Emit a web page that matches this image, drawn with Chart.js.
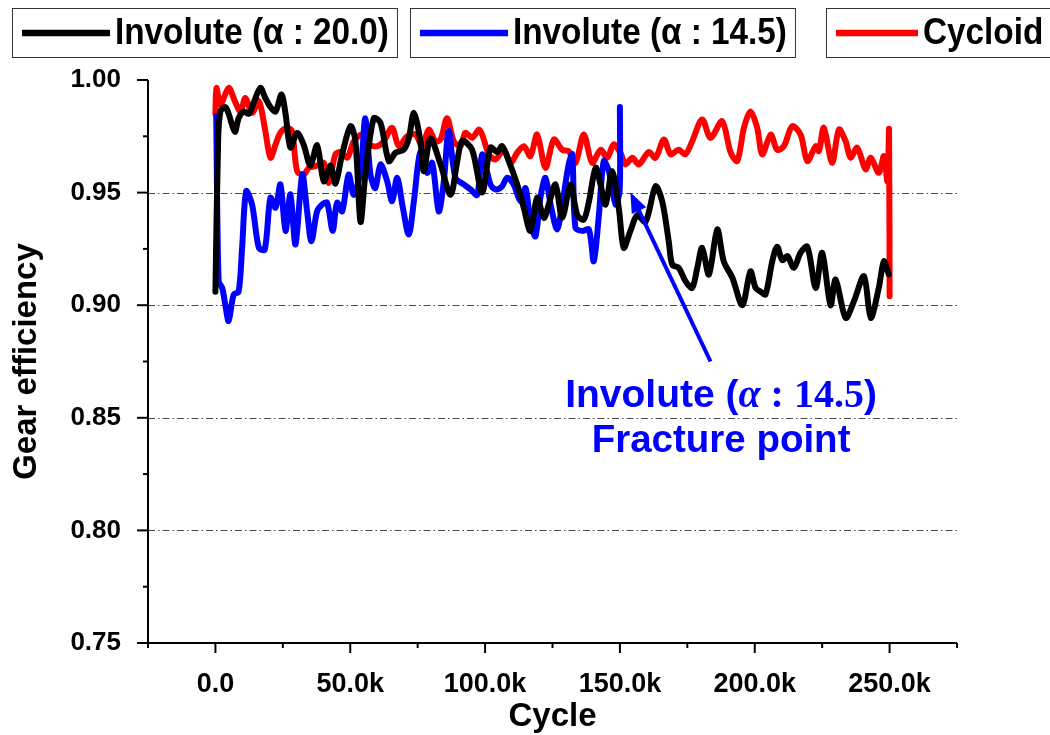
<!DOCTYPE html>
<html lang="en">
<head>
<meta charset="UTF-8">
<title>Gear efficiency</title>
<style>
  body { margin: 0; background: #fff; }
  canvas { display: block; }
</style>
</head>
<body>
<canvas id="myChart" width="1050" height="735"></canvas>
<script src="https://cdn.jsdelivr.net/npm/chart.js"></script>
<script>
// cycles are in thousands, efficiency as a fraction
const cycleA20 = [0, 1.0, 1.85, 3.7, 4.9, 7.2, 8.6, 10.5, 12.4, 14.2,
  16.7, 18.5, 20.4, 22.3, 24.5, 26.0, 27.8, 30.3, 32.8, 35.2,
  37.7, 40.2, 42.7, 44.5, 47.0, 50.1, 51.9, 53.8, 55.6, 58.7,
  61.2, 64.3, 66.8, 69.8, 71.7, 73.6, 76.0, 77.3, 79.7, 83.5,
  87.2, 89.7, 91.5, 95.2, 98.9, 102.0, 104.5, 106.3, 108.8, 111.9,
  114.4, 116.8, 119.3, 121.8, 123.6, 126.1, 128.6, 131.7, 134.2, 136.6,
  138.5, 141.0, 142.8, 144.7, 147.1, 149.6, 151.4, 153.9, 156.4, 159.5,
  163.2, 165.7, 168.1, 169.4, 171.8, 174.3, 176.8, 178.7, 180.5, 183.0,
  186.1, 188.5, 191.7, 195.4, 198.4, 200.3, 202.2, 204.0, 206.5, 208.3,
  210.2, 212.1, 214.5, 217.0, 219.5, 222.6, 225.0, 228.1, 230.0, 233.7,
  236.8, 240.5, 243.0, 246.0, 247.9, 249.7];
const effA20 = [0.906, 0.973, 0.986, 0.988, 0.985, 0.977, 0.983, 0.986, 0.985, 0.990,
  0.9965, 0.992, 0.988, 0.986, 0.9936, 0.985, 0.970, 0.9765, 0.971, 0.962,
  0.971, 0.955, 0.962, 0.954, 0.967, 0.9795, 0.973, 0.937, 0.958, 0.983,
  0.981, 0.964, 0.9677, 0.969, 0.974, 0.9854, 0.973, 0.9595, 0.974, 0.9625,
  0.949, 0.964, 0.973, 0.969, 0.950, 0.970, 0.968, 0.9706, 0.964, 0.9536,
  0.943, 0.933, 0.9477, 0.9388, 0.9447, 0.9536, 0.9388, 0.9536, 0.940, 0.938,
  0.946, 0.961, 0.9536, 0.9447, 0.9595, 0.943, 0.9255, 0.933, 0.940, 0.937,
  0.9528, 0.946, 0.9284, 0.918, 0.9166, 0.9107, 0.9077, 0.9166, 0.9255, 0.9136,
  0.9336, 0.9195, 0.9122, 0.900, 0.915, 0.9077, 0.906, 0.9048, 0.9195, 0.926,
  0.920, 0.9218, 0.9166, 0.9233, 0.926, 0.9077, 0.9233, 0.900, 0.9114, 0.8944,
  0.9018, 0.9129, 0.8944, 0.9077, 0.9195, 0.9136];

const cycleA145 = [0.3, 1.2, 2.5, 3.7, 4.9, 6.8, 8.6, 9.9, 11.4, 13.6,
  16.1, 18.3, 20.4, 22.3, 24.1, 26.0, 27.8, 29.7, 32.2, 34.0,
  35.6, 37.7, 39.6, 41.4, 43.5, 45.1, 47.0, 49.4, 51.3, 53.8,
  55.6, 57.5, 59.3, 61.2, 63.7, 65.5, 67.4, 69.3, 71.7, 73.6,
  76.0, 78.5, 80.4, 82.8, 84.7, 86.5, 89.0, 92.1, 94.6, 97.1,
  98.9, 102.0, 103.9, 106.3, 108.2, 110.6, 113.1, 115.0, 116.8, 118.7,
  120.5, 122.4, 124.3, 126.7, 128.6, 131.0, 132.3, 133.5, 136.0, 138.5,
  140.3, 142.2, 144.0, 145.9, 148.4, 149.9, 150.0];
const effA145 = [0.984, 0.9107, 0.9077, 0.900, 0.893, 0.9048, 0.906, 0.9255, 0.9506, 0.9447,
  0.9255, 0.9247, 0.9477, 0.9433, 0.9536, 0.933, 0.9492, 0.927, 0.958, 0.9417,
  0.9284, 0.9417, 0.9447, 0.9455, 0.933, 0.9455, 0.9417, 0.958, 0.949, 0.9595,
  0.983, 0.958, 0.952, 0.9625, 0.955, 0.9462, 0.9566, 0.9447, 0.9314, 0.9462,
  0.968, 0.9588, 0.9632, 0.9417, 0.955, 0.9773, 0.9566, 0.9536, 0.9514, 0.949,
  0.967, 0.9536, 0.9514, 0.9528, 0.9566, 0.9536, 0.9462, 0.952, 0.9373, 0.9306,
  0.9477, 0.9566, 0.9447, 0.9336, 0.9447, 0.9625, 0.967, 0.9344, 0.933, 0.9336,
  0.9195, 0.940, 0.964, 0.9595, 0.9447, 0.951, 0.988];

const cycleCyc = [0, 0.4, 1.85, 4.9, 7.2, 9.3, 11.1, 13.6, 16.1, 18.3,
  20.4, 22.3, 24.1, 26.6, 28.4, 30.3, 32.8, 34.6, 37.1, 40.2,
  42.0, 44.5, 46.4, 48.9, 51.3, 54.4, 56.9, 60.0, 62.4, 65.5,
  68.0, 71.1, 74.2, 76.7, 79.1, 81.6, 83.5, 85.9, 88.4, 90.9,
  92.7, 95.2, 97.7, 98.9, 101.4, 103.9, 106.9, 109.4, 111.9, 114.4,
  116.8, 119.3, 122.4, 125.5, 128.6, 131.0, 133.5, 136.6, 139.7, 142.8,
  145.3, 147.7, 150.2, 152.1, 154.6, 157.0, 160.7, 163.2, 166.3, 168.8,
  171.8, 174.3, 176.8, 180.5, 183.6, 187.9, 191.0, 193.5, 196.0, 198.4,
  200.9, 202.8, 205.9, 208.3, 210.8, 213.9, 217.0, 219.5, 222.6, 223.8,
  225.6, 228.7, 231.2, 233.7, 235.5, 238.0, 241.1, 243.0, 246.0, 247.9,
  249.2, 249.8, 250.0];
const effCyc = [0.985, 0.9965, 0.989, 0.9965, 0.9906, 0.986, 0.992, 0.9854, 0.9906, 0.9788,
  0.9655, 0.9714, 0.9766, 0.9788, 0.9773, 0.9595, 0.958, 0.961, 0.9617, 0.9632,
  0.9543, 0.967, 0.968, 0.9655, 0.9728, 0.9758, 0.9714, 0.9706, 0.9728, 0.9788,
  0.9706, 0.975, 0.9758, 0.9706, 0.978, 0.9728, 0.9736, 0.983, 0.9728, 0.9706,
  0.9766, 0.9743, 0.978, 0.9758, 0.967, 0.9647, 0.969, 0.9632, 0.9677, 0.9706,
  0.9662, 0.9758, 0.961, 0.9736, 0.969, 0.9684, 0.9632, 0.9758, 0.9632, 0.969,
  0.9655, 0.9714, 0.9677, 0.9625, 0.9655, 0.9625, 0.968, 0.9655, 0.9736, 0.967,
  0.969, 0.967, 0.9728, 0.9825, 0.9743, 0.9817, 0.968, 0.964, 0.9788, 0.986,
  0.9788, 0.967, 0.9758, 0.969, 0.9706, 0.9795, 0.9758, 0.964, 0.9706, 0.9684,
  0.9788, 0.9632, 0.978, 0.9728, 0.9655, 0.9699, 0.9603, 0.9655, 0.9588, 0.9662,
  0.955, 0.978, 0.904];

const seriesNames = ['Involute (\u03b1 : 20.0)', 'Involute (\u03b1 : 14.5)', 'Cycloid'];
const seriesColors = ['#000000', '#0000ff', '#ff0000'];

const SANS = '"Liberation Sans", Arial, Helvetica, sans-serif';
const SERIF = '"Liberation Serif", "Times New Roman", serif';

function toPoints(cycles, effs) {
  return cycles.map((c, i) => ({ x: c * 1000, y: effs[i] }));
}

// left/bottom axes with long major and short minor ticks, dash-dot guides
const axesPlugin = {
  id: 'axesPlugin',
  beforeDatasetsDraw(chart) {
    const { ctx, chartArea: a, scales: { y } } = chart;
    ctx.save();
    ctx.strokeStyle = '#4a4a4a';
    ctx.lineWidth = 1;
    ctx.setLineDash([7, 3, 1.5, 3]);
    y.ticks.forEach(t => {
      const m = Math.round(t.value * 1000);
      if (m % 50 !== 0 || m <= 750 || m >= 1000) return;
      const py = Math.round(y.getPixelForValue(t.value)) + 0.5;
      ctx.beginPath();
      ctx.moveTo(a.left, py);
      ctx.lineTo(a.right, py);
      ctx.stroke();
    });
    ctx.restore();
  },
  afterDraw(chart) {
    const { ctx, chartArea: a, scales: { x, y } } = chart;
    ctx.save();
    ctx.strokeStyle = '#000';
    ctx.lineWidth = 2;
    ctx.beginPath();
    ctx.moveTo(a.left, a.top);
    ctx.lineTo(a.left, a.bottom);
    ctx.lineTo(a.right, a.bottom);
    ctx.stroke();
    y.ticks.forEach(t => {
      const major = Math.round(t.value * 1000) % 50 === 0;
      const py = y.getPixelForValue(t.value);
      ctx.beginPath();
      ctx.moveTo(a.left, py);
      ctx.lineTo(a.left - (major ? 11 : 5), py);
      ctx.stroke();
    });
    x.ticks.forEach(t => {
      const major = Math.round(t.value) % 50000 === 0;
      const px = x.getPixelForValue(t.value);
      ctx.beginPath();
      ctx.moveTo(px, a.bottom);
      ctx.lineTo(px, a.bottom + (major ? 10 : 5));
      ctx.stroke();
    });
    ctx.restore();
  }
};

// boxed legend entries across the top
const legendBoxes = {
  id: 'legendBoxes',
  afterDraw(chart) {
    const ctx = chart.ctx;
    const lefts = [12, 410, 826];
    const squeeze = 0.9;
    ctx.save();
    ctx.font = 'bold 37px ' + SANS;
    ctx.textBaseline = 'middle';
    chart.data.datasets.forEach((ds, i) => {
      const x0 = lefts[i];
      const lineLen = i === 2 ? 82 : 88;
      const tw = ctx.measureText(ds.label).width * squeeze;
      const w = 10 + lineLen + 5 + tw + 8;
      ctx.strokeStyle = '#333';
      ctx.lineWidth = 1;
      ctx.strokeRect(x0 + 0.5, 8.5, w, 49);
      ctx.strokeStyle = ds.borderColor;
      ctx.lineWidth = 6.5;
      ctx.beginPath();
      ctx.moveTo(x0 + 10, 33);
      ctx.lineTo(x0 + 10 + lineLen, 33);
      ctx.stroke();
      ctx.save();
      ctx.translate(x0 + 15 + lineLen, 34);
      ctx.scale(squeeze, 1);
      ctx.fillStyle = '#000';
      ctx.fillText(ds.label, 0, 0);
      ctx.restore();
    });
    ctx.restore();
  }
};

// arrow and caption marking where the 14.5 deg gear broke
const arrowTip = [153900, 0.950];
const arrowTail = [183600, 0.875];
const noteX = 187500;
const noteRows = [0.8595, 0.8395];

const fractureNote = {
  id: 'fractureNote',
  afterDatasetsDraw(chart) {
    const { ctx, scales: { x, y } } = chart;
    const x1 = x.getPixelForValue(arrowTail[0]), y1 = y.getPixelForValue(arrowTail[1]);
    const x2 = x.getPixelForValue(arrowTip[0]), y2 = y.getPixelForValue(arrowTip[1]);
    const ang = Math.atan2(y2 - y1, x2 - x1);
    const head = 20, half = 8;
    ctx.save();
    ctx.strokeStyle = '#0000ff';
    ctx.fillStyle = '#0000ff';
    ctx.lineWidth = 4;
    ctx.beginPath();
    ctx.moveTo(x1, y1);
    ctx.lineTo(x2 - Math.cos(ang) * head * 0.8, y2 - Math.sin(ang) * head * 0.8);
    ctx.stroke();
    ctx.beginPath();
    ctx.moveTo(x2, y2);
    ctx.lineTo(x2 - Math.cos(ang) * head - Math.sin(ang) * half, y2 - Math.sin(ang) * head + Math.cos(ang) * half);
    ctx.lineTo(x2 - Math.cos(ang) * head + Math.sin(ang) * half, y2 - Math.sin(ang) * head - Math.cos(ang) * half);
    ctx.closePath();
    ctx.fill();

    const cx = x.getPixelForValue(noteX);
    ctx.textBaseline = 'middle';
    const parts = [
      { t: 'Involute (', f: 'bold 39px ' + SANS },
      { t: '\u03b1', f: 'italic bold 40px ' + SERIF },
      { t: ' : 14.5', f: 'bold 40px ' + SERIF },
      { t: ')', f: 'bold 39px ' + SANS }
    ];
    let total = 0;
    parts.forEach(p => { ctx.font = p.f; p.w = ctx.measureText(p.t).width; total += p.w; });
    let px = cx - total / 2;
    const row1 = y.getPixelForValue(noteRows[0]);
    parts.forEach(p => {
      ctx.font = p.f;
      ctx.textAlign = 'left';
      ctx.fillText(p.t, px, row1);
      px += p.w;
    });
    ctx.font = 'bold 38.5px ' + SANS;
    ctx.textAlign = 'center';
    ctx.fillText('Fracture point', cx, y.getPixelForValue(noteRows[1]));
    ctx.restore();
  }
};

const ctx = document.getElementById('myChart');
new Chart(ctx, {
  type: 'line',
  data: {
    datasets: [
      { label: seriesNames[0], data: toPoints(cycleA20, effA20), borderColor: seriesColors[0] },
      { label: seriesNames[1], data: toPoints(cycleA145, effA145), borderColor: seriesColors[1] },
      { label: seriesNames[2], data: toPoints(cycleCyc, effCyc), borderColor: seriesColors[2] }
    ]
  },
  options: {
    responsive: false,
    animation: false,
    layout: { padding: { top: 80, right: 93, left: 0, bottom: 0 } },
    elements: {
      line: { borderWidth: 6, tension: 0.3, fill: false, borderJoinStyle: 'round', borderCapStyle: 'round' },
      point: { radius: 0, hoverRadius: 0 }
    },
    plugins: {
      legend: { display: false },
      tooltip: { enabled: false }
    },
    scales: {
      x: {
        type: 'linear',
        min: -25000,
        max: 275000,
        grid: { display: false },
        border: { display: false },
        ticks: {
          stepSize: 25000,
          autoSkip: false,
          maxRotation: 0,
          padding: 17,
          color: '#000',
          font: { family: SANS, size: 27, weight: 'bold' },
          callback: v => {
            const r = Math.round(v);
            if (r % 50000 !== 0 || r < 0 || r > 250000) return '';
            return r === 0 ? '0.0' : (r / 1000).toFixed(1) + 'k';
          }
        },
        title: {
          display: true,
          text: 'Cycle',
          color: '#000',
          font: { family: SANS, size: 33, weight: 'bold', lineHeight: 1.0 },
          padding: { top: 2, bottom: 2 }
        },
        afterFit: s => { s.height = 92; }
      },
      y: {
        min: 0.75,
        max: 1.0,
        grid: { display: false },
        border: { display: false },
        ticks: {
          stepSize: 0.025,
          autoSkip: false,
          padding: 19,
          color: '#000',
          font: { family: SANS, size: 26, weight: 'bold' },
          callback: v => (Math.round(v * 1000) % 50 === 0 ? v.toFixed(2) : '')
        },
        title: {
          display: true,
          text: 'Gear efficiency',
          color: '#000',
          font: { family: SANS, size: 33, weight: 'bold', lineHeight: 1.0 },
          padding: { top: 10, bottom: 10 }
        },
        afterFit: s => { s.width = 148; }
      }
    }
  },
  plugins: [axesPlugin, legendBoxes, fractureNote]
});
</script>
</body>
</html>
